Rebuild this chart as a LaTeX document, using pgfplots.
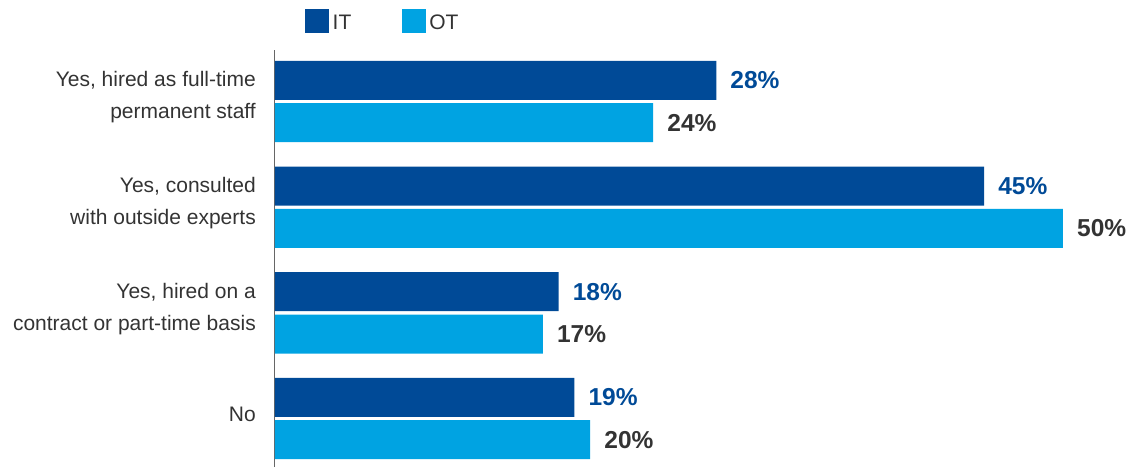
\documentclass[border=0pt]{standalone}
\usepackage{pgfplots}
\pgfplotsset{compat=1.18}
\usepackage{fontspec}
\setmainfont{Liberation Sans}
\definecolor{itblue}{HTML}{004A97}
\definecolor{otblue}{HTML}{00A3E2}
\definecolor{txt}{HTML}{333333}
\definecolor{axgray}{HTML}{666666}
\begin{document}
\begin{tikzpicture}
\begin{axis}[
  at={(0pt,0pt)}, anchor=south west,
  scale only axis, width=851pt, height=417pt,
  xmin=0, xmax=54, ymin=-0.458, ymax=3.487,
  enlargelimits=false, clip=false,
  xbar, bar width=0.369,
  point meta=x,
  /pgf/number format/assume math mode=true,
  axis x line=none, axis y line=left,
  y axis line style={-, draw=axgray, line width=1pt},
  major tick length=0pt,
  ytick={0,1,2,3},
  yticklabels={No,{Yes, hired on a\\contract or part-time basis},{Yes, consulted\\with outside experts},{Yes, hired as full-time\\permanent staff}},
  yticklabel style={font=\fontsize{21}{32}\selectfont, text=txt, align=right, inner sep=0pt, xshift=-19pt, yshift=4pt},
  legend columns=2,
  legend style={at={(0.0353,1.098)}, anchor=north west, draw=none, fill=none, inner sep=0pt,
    font=\fontsize{21}{25}\selectfont, text=txt,
    nodes={inner sep=3.5pt},
    /tikz/every even column/.append style={column sep=47pt}},
  nodes near coords={\pgfmathprintnumber{\pgfplotspointmeta}\%},
]
\addplot[draw=none, fill=itblue, bar shift=0.2,
  legend image code/.code={\fill[itblue] (0pt,-10.5pt) rectangle (24pt,13.5pt);},
  every node near coord/.append style={font=\fontsize{24.5}{28}\selectfont\bfseries, text=itblue, anchor=west, inner sep=0pt, xshift=14pt}]
  coordinates {(28,3) (45,2) (18,1) (19,0)};
\addlegendentry{IT}
\addplot[draw=none, fill=otblue, bar shift=-0.2,
  legend image code/.code={\fill[otblue] (0pt,-10.5pt) rectangle (24pt,13.5pt);},
  every node near coord/.append style={font=\fontsize{24.5}{28}\selectfont\bfseries, text=txt, anchor=west, inner sep=0pt, xshift=14pt}]
  coordinates {(24,3) (50,2) (17,1) (20,0)};
\addlegendentry{OT}
\end{axis}
\pgfresetboundingbox
\path[use as bounding box] (-275pt,0pt) rectangle (853pt,467pt);
\end{tikzpicture}
\end{document}
